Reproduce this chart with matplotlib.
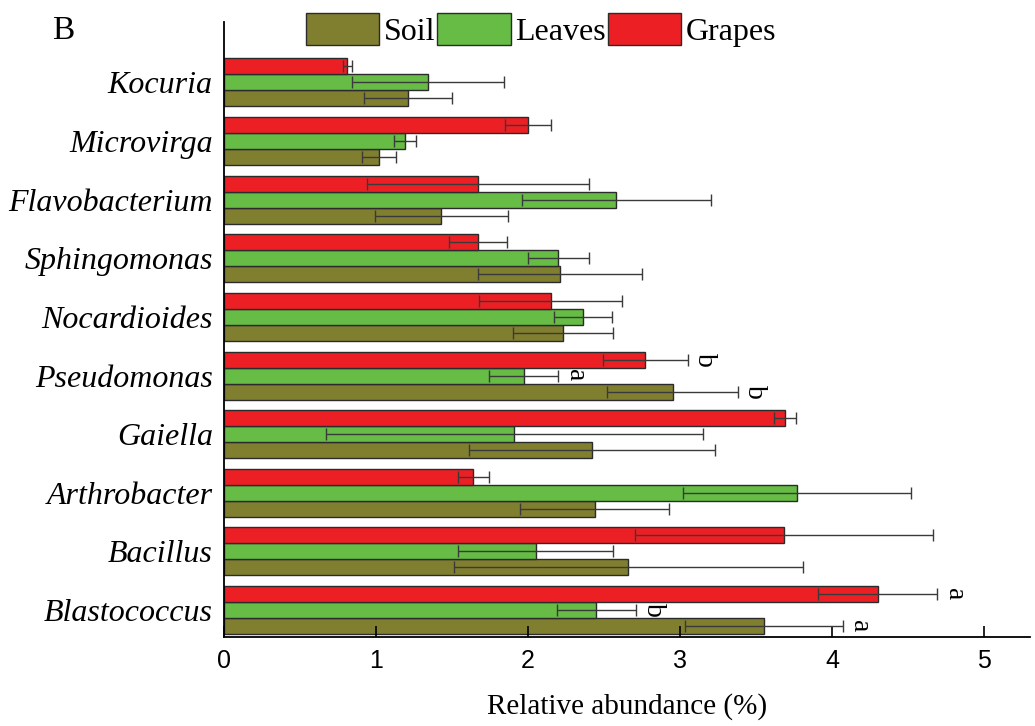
import matplotlib.pyplot as plt
import numpy as np

plt.rcParams["font.family"] = "Liberation Serif"

genera = ["Blastococcus", "Bacillus", "Arthrobacter", "Gaiella", "Pseudomonas",
          "Nocardioides", "Sphingomonas", "Flavobacterium", "Microvirga", "Kocuria"]

soil = [3.55, 2.66, 2.44, 2.42, 2.95, 2.23, 2.21, 1.43, 1.02, 1.21]
soil_err = [0.52, 1.15, 0.49, 0.81, 0.43, 0.33, 0.54, 0.44, 0.11, 0.29]
leaves = [2.45, 2.05, 3.77, 1.91, 1.97, 2.36, 2.20, 2.58, 1.19, 1.34]
leaves_err = [0.26, 0.51, 0.75, 1.24, 0.23, 0.19, 0.20, 0.62, 0.07, 0.50]
grapes = [4.30, 3.68, 1.64, 3.69, 2.77, 2.15, 1.67, 1.67, 2.00, 0.81]
grapes_err = [0.39, 0.98, 0.10, 0.07, 0.28, 0.47, 0.19, 0.73, 0.15, 0.03]

# significance letters: (genus index, series, letter)
letters = [(0, "grapes", "a"), (0, "leaves", "b"), (0, "soil", "a"),
           (4, "grapes", "b"), (4, "leaves", "a"), (4, "soil", "b")]

colors = {"soil": "#807f30", "leaves": "#66bc45", "grapes": "#ec2024"}

y = np.arange(len(genera))
h = 0.273

fig = plt.figure(figsize=(10.35, 7.26), dpi=100)
ax = fig.add_axes([0.2164, 0.1226, 0.7786, 0.8471])

series = [("soil", "Soil", soil, soil_err, -h),
          ("leaves", "Leaves", leaves, leaves_err, 0),
          ("grapes", "Grapes", grapes, grapes_err, h)]

ekw = dict(ecolor="#3a3a3a", elinewidth=1.0, capsize=4, capthick=1.0)
handles = []
for key, name, vals, errs, off in series:
    b = ax.barh(y + off, vals, height=h, color=colors[key], edgecolor="#2b2b2b",
                linewidth=1.0, xerr=errs, error_kw=ekw, label=name)
    handles.append(b)

lookup = {k: (v, e, o) for k, _, v, e, o in series}
for i, key, txt in letters:
    v, e, o = lookup[key]
    ax.text(v[i] + e[i] + 0.03, y[i] + o, txt, rotation=-90, fontsize=20,
            ha="left", va="center")

ax.set_xlim(0, 5.3)
ax.set_ylim(-0.46, 10.03)
ax.set_xticks([0, 1, 2, 3, 4, 5])
ax.set_xticklabels(["0", "1", "2", "3", "4", "5"], family="Liberation Sans", fontsize=18)
ax.set_yticks(y)
ax.set_yticklabels(genera, fontstyle="italic", fontsize=23)
ax.tick_params(axis="y", length=0, pad=8)
ax.tick_params(axis="x", direction="in", length=8, width=1.2, pad=9)
ax.spines["top"].set_visible(False)
ax.spines["right"].set_visible(False)
ax.spines["left"].set_linewidth(1.3)
ax.spines["bottom"].set_linewidth(1.3)
ax.set_xlabel("Relative abundance (%)", fontsize=21, labelpad=14)

fig.legend(handles=handles, labels=["Soil", "Leaves", "Grapes"], ncol=3,
           loc="center", bbox_to_anchor=(0.523, 0.959), frameon=False,
           fontsize=23, handlelength=2.3, handleheight=1.15,
           handletextpad=0.15, columnspacing=0.05, borderpad=0)

fig.text(0.05, 0.958, "B", fontsize=24, ha="left", va="center")

fig.savefig("out.png", dpi=100)
